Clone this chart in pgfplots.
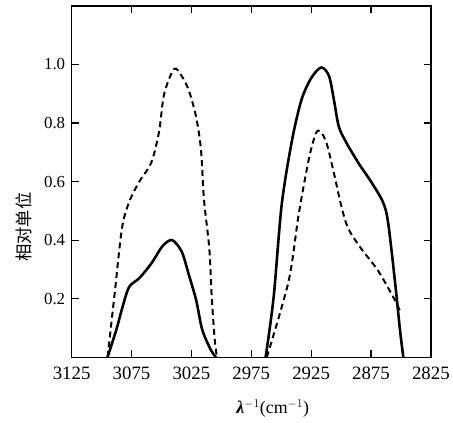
\documentclass[border=0pt]{standalone}
\usepackage{pgfplots}
\pgfplotsset{compat=1.18}
\usepackage{fontspec}
\setmainfont{Liberation Serif}
\newfontfamily\cjk{Noto Sans CJK SC}
\begin{document}
\begin{tikzpicture}
\begin{axis}[
  scale only axis,
  width=361bp, height=353bp,
  x dir=reverse,
  xmin=2825, xmax=3125,
  ymin=0, ymax=1.2,
  xtick={2825,2875,...,3125},
  ytick={0.2,0.4,0.6,0.8,1.0},
  xticklabel style={/pgf/number format/1000 sep={}, font=\fontsize{19}{21}\selectfont, anchor=center, yshift=-16bp},
  yticklabel style={/pgf/number format/fixed,/pgf/number format/fixed zerofill,/pgf/number format/precision=1,
    font=\fontsize{17}{19}\selectfont, anchor=east, xshift=-3bp},
  /pgf/number format/assume math mode=true,
  tick align=inside,
  major tick length=7bp,
  tick style={line width=1.2pt, black},
  axis line style={line width=1.4pt},
  xlabel={{\bfseries\itshape λ}$^{-1}$(cm$^{-1}$)},
  xlabel style={font=\fontsize{18}{20}\selectfont, at={(axis description cs:0.56,-0.147)}, anchor=center},
  ylabel={\cjk 相对单位},
  ylabel style={font=\fontsize{17.5}{19}\selectfont, at={(axis description cs:-0.133,0.37)}, anchor=center},
]
% left band, dashed
\addplot[black, line width=2pt, dash pattern=on 6bp off 4bp, smooth, tension=0.5] coordinates {
  (3095,0) (3089,0.22) (3083,0.44) (3077,0.53) (3068.5,0.60) (3058.5,0.665)
  (3052,0.77) (3047.7,0.90) (3039.4,0.985) (3033,0.96) (3027,0.91) (3021,0.82)
  (3017,0.71) (3014.5,0.54) (3010,0.37) (3008,0.205) (3005.5,0.06) (3003.6,0)
};
% left band, solid
\addplot[black, line width=2.6pt, smooth, tension=0.5] coordinates {
  (3095,0) (3087.6,0.095) (3082.6,0.17) (3077,0.24) (3068.5,0.27) (3058.5,0.32)
  (3049,0.38) (3041,0.40) (3033,0.36) (3027,0.28) (3021,0.195) (3016,0.095)
  (3009,0.027) (3004.5,0)
};
% right band, solid
\addplot[black, line width=2.6pt, smooth, tension=0.5] coordinates {
  (2963,0) (2956.3,0.205) (2949.6,0.52) (2941,0.74) (2933,0.88) (2924.7,0.955)
  (2916.4,0.99) (2910,0.96) (2906,0.88) (2902,0.79) (2896.5,0.74) (2885.7,0.665) (2875,0.60)
  (2865,0.53) (2860.7,0.46) (2855,0.26) (2850.8,0.094) (2848,0)
};
% right band, dashed
\addplot[black, line width=2pt, dash pattern=on 6bp off 4bp, smooth, tension=0.5] coordinates {
  (2962,0) (2943.8,0.26) (2935.5,0.485) (2927,0.675) (2921,0.765) (2917,0.77) (2912,0.73)
  (2906,0.63) (2900,0.52) (2894,0.44) (2883,0.37) (2869,0.295) (2855,0.195) (2851,0.16)
};
\end{axis}
\path (current axis.south west) ++(-72bp,-66bp) coordinate (bbA);
\path (current axis.north east) ++(20bp,6bp) coordinate (bbB);
\path (bbA) rectangle (bbB);
\end{tikzpicture}
\end{document}
